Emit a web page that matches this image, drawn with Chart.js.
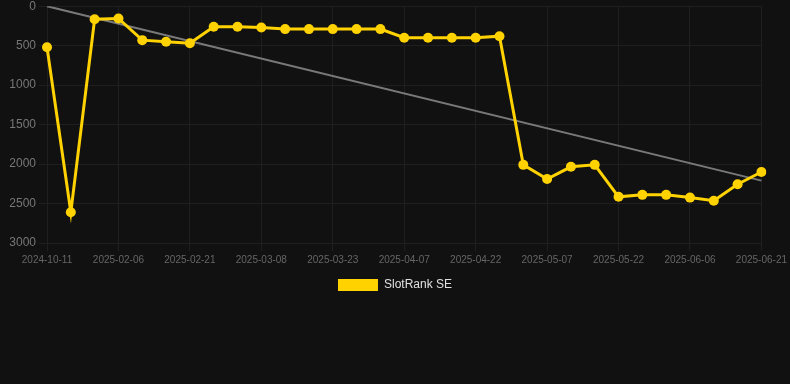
<!DOCTYPE html>
<html>
<head>
<meta charset="utf-8">
<script src="https://cdn.jsdelivr.net/npm/chart.js@4.4.0/dist/chart.umd.min.js"></script>
<style>
  html, body { margin: 0; padding: 0; background: #111111; overflow: hidden; }
  #wrap { position: relative; top: -4px; width: 790px; height: 305px; }
</style>
</head>
<body>
<div id="wrap"><canvas id="rank-chart"></canvas></div>
<script>
// dates on the x axis
const dates = [
  '2024-10-11', '2025-01-27', '2025-02-01', '2025-02-06', '2025-02-11', '2025-02-16',
  '2025-02-21', '2025-02-26', '2025-03-03', '2025-03-08', '2025-03-13', '2025-03-18',
  '2025-03-23', '2025-03-28', '2025-04-02', '2025-04-07', '2025-04-12', '2025-04-17',
  '2025-04-22', '2025-04-27', '2025-05-02', '2025-05-07', '2025-05-12', '2025-05-17',
  '2025-05-22', '2025-05-27', '2025-06-01', '2025-06-06', '2025-06-11', '2025-06-16',
  '2025-06-21'
];

// rank values
const rankSE = [
  520, 2610, 165, 155, 430, 450, 470, 260, 260, 270, 290, 290,
  290, 290, 290, 400, 400, 400, 400, 380, 2010, 2190, 2035, 2010,
  2415, 2390, 2390, 2425, 2465, 2255, 2100
];

// trend line, only the two ends
const trendStart = 0;
const trendEnd = 2210;

const yTicks = [0, 500, 1000, 1500, 2000, 2500, 3000];

const trend = dates.map((d, i) => i === 0 ? trendStart : (i === dates.length - 1 ? trendEnd : null));

const font = 'Arial, "Liberation Sans", sans-serif';
const ctx = document.getElementById('rank-chart').getContext('2d');

new Chart(ctx, {
  type: 'line',
  data: {
    labels: dates,
    datasets: [{
      label: 'SlotRank SE',
      data: rankSE,
      borderColor: '#FFD200',
      backgroundColor: '#FFD200',
      borderWidth: 3,
      pointRadius: 5,
      pointHoverRadius: 5,
      pointBackgroundColor: '#FFD200',
      pointBorderWidth: 0,
      tension: 0,
      order: 1,
    }, {
      label: 'trend',
      data: trend,
      borderColor: 'rgba(140,140,140,0.85)',
      borderWidth: 2,
      pointRadius: 0,
      spanGaps: true,
      fill: false,
      order: 2,
    }],
  },
  options: {
    responsive: true,
    maintainAspectRatio: false,
    animation: false,
    layout: { padding: 0, autoPadding: false },
    plugins: {
      tooltip: { enabled: false },
      legend: {
        position: 'bottom',
        labels: {
          color: '#e0e0e0',
          font: { family: font, size: 12 },
          boxWidth: 40,
          boxHeight: 12,
          filter: item => item.text !== 'trend',
          generateLabels: chart => {
            const items = Chart.defaults.plugins.legend.labels.generateLabels(chart);
            items.forEach(it => { it.lineWidth = 0; });
            return items;
          },
        },
      },
    },
    scales: {
      x: {
        grid: { color: '#1f1f1f' },
        border: { color: '#1f1f1f' },
        ticks: {
          color: '#666666',
          autoSkip: true,
          maxTicksLimit: 11,
          maxRotation: 0,
          font: { family: font, size: 10 },
        },
      },
      y: {
        reverse: true,
        min: 0,
        max: 3000,
        grid: { color: '#1f1f1f' },
        border: { color: '#1f1f1f' },
        afterBuildTicks: axis => { axis.ticks = yTicks.map(v => ({ value: v })); },
        afterFit: axis => { axis.width = 47; },
        ticks: {
          color: '#777777',
          font: { family: font, size: 12 },
          callback: value => String(value),
        },
      },
    },
  },
});
</script>
</body>
</html>
